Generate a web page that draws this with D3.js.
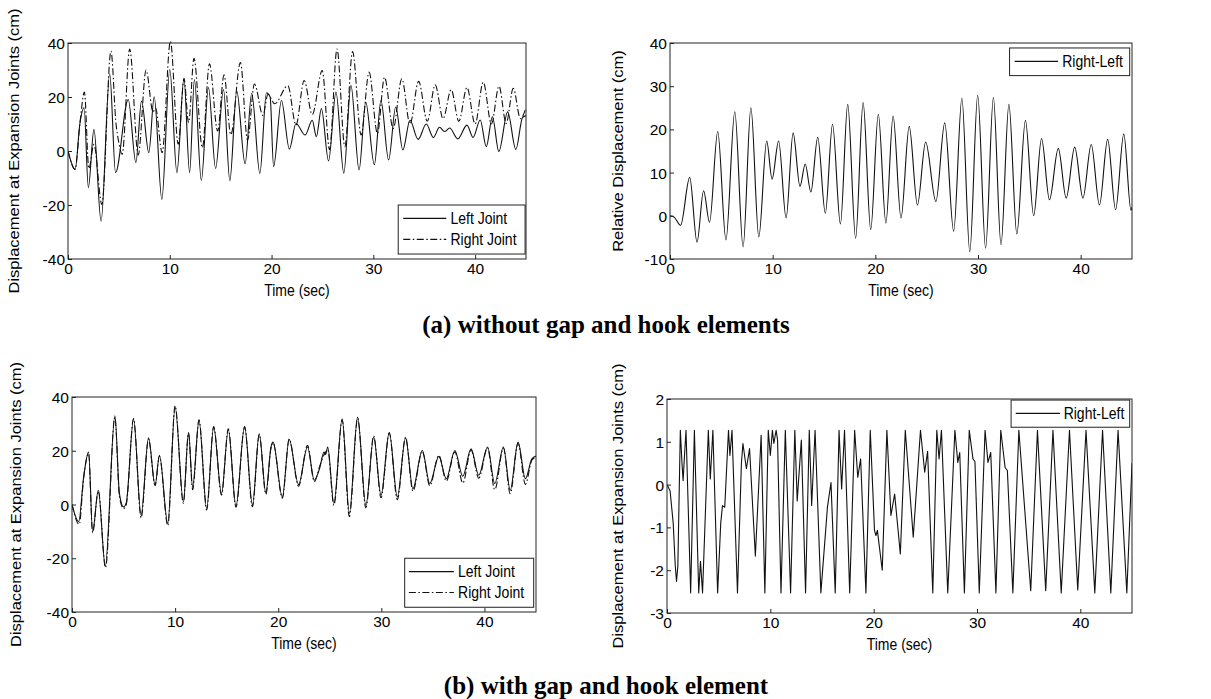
<!DOCTYPE html>
<html><head><meta charset="utf-8">
<script src="https://cdn.jsdelivr.net/npm/d3@7"></script>
<style>
body{margin:0;background:#fff;}
</style></head><body>
<svg id="chart" width="1211" height="699"></svg>
<script>
// ---------- data ----------
const timeTicks = [0, 10, 20, 30, 40];
const yTicksA1 = [-40, -20, 0, 20, 40];
const yTicksA2 = [-10, 0, 10, 20, 30, 40];
const yTicksB1 = [-40, -20, 0, 20, 40];
const yTicksB2 = [-3, -2, -1, 0, 1, 2];
const legendA1 = ["Left Joint", "Right Joint"];
const legendA2 = ["Right-Left"];
const captionA = "(a) without gap and hook elements";
const captionB = "(b) with gap and hook element";

// (a) left : displacement at joints, extrema [time, value]
const a1Left = [[0,0],[0.7,-6.8],[1.17,10.2],[1.58,16],[2.0,-13.6],[2.55,8.0],[3.25,-26],[4.1,28.6],[4.67,-8],[5.92,19.1],[6.67,-4.3],[7.22,18.5],[7.94,-0.6],[8.47,20.1],[9.22,-17.9],[10.0,30.2],[10.7,-8],[11.39,26.8],[11.95,-8],[12.42,26.5],[13.1,-10.9],[13.8,23.5],[14.5,-6.5],[15.28,22.8],[15.9,-11],[16.58,22.2],[17.4,-4.7],[18.05,21.4],[18.85,-8.3],[19.5,21.6],[19.86,20],[20.2,-5.8],[20.97,18.7],[21.75,0.7],[22.4,10.2],[23.3,5.9],[24.0,11.4],[24.4,5.3],[24.9,15.7],[25.6,-3.7],[26.33,21.8],[27.1,-8.2],[27.8,24.3],[28.6,-7],[29.25,18.1],[30.1,-5.1],[30.75,18.7],[31.5,-3.3],[32.2,16.3],[32.9,0.4],[33.6,11.4],[34.4,4.3],[35.2,10],[35.9,5],[36.5,8.8],[37.0,7.2],[37.5,8.5],[38.3,4.5],[39.2,9.6],[39.8,5],[40.5,11.5],[41.1,1.6],[41.7,12.7],[42.33,-0.2],[43.2,14.5],[44.0,0.6],[44.67,12.5],[45,13]];
const a1Right = [[0,0],[0.7,-6.8],[1.17,10.2],[1.61,21.8],[2.05,-6.5],[2.55,2.5],[3.33,-19.8],[4.22,37],[4.72,10],[4.95,4],[5.33,-1.2],[6.06,37.8],[6.9,-1.5],[7.67,30],[8.35,14.5],[8.6,16],[9.25,-0.6],[10.06,40.6],[10.83,2.5],[11.4,26.8],[11.85,10.5],[12.38,34.3],[13.2,1.2],[13.9,32.3],[14.7,7.4],[15.33,28.2],[16.0,6],[16.94,32.8],[17.64,4],[18.32,24.8],[19.15,13.2],[19.65,21],[20.3,17.5],[21.6,24.2],[22.4,9.6],[23.2,26.1],[24.0,13.5],[24.98,29.8],[25.7,0.5],[26.43,37.8],[27.2,1.6],[27.96,36.8],[28.8,5.9],[29.58,29.2],[30.4,6.5],[31.1,27.3],[31.95,8.3],[32.8,26.7],[33.6,10],[34.45,25.8],[35.3,11],[36.08,24.5],[36.85,12],[37.65,22.7],[38.4,11],[39.2,23.5],[40.0,10],[40.8,25.5],[41.6,10],[42.35,24],[43.05,10.2],[43.75,23.2],[44.45,12],[45,16]];

// (a) right : relative displacement
const a2Rel = [[0,0],[0.4,-0.3],[1.03,-2.2],[1.92,8.9],[2.63,-6.1],[3.27,5.8],[3.85,-1.5],[4.65,19.5],[5.45,-5.6],[6.31,24.1],[7.12,-7.2],[7.88,25],[8.65,-4.9],[9.42,17.3],[9.94,8.5],[10.58,17.3],[11.31,-0.5],[11.99,19.2],[12.66,6.8],[13.17,12],[13.72,5.5],[14.39,18.2],[15.13,0.6],[15.83,21.2],[16.6,-1.9],[17.31,25.8],[18.08,-5.2],[18.81,26.2],[19.55,-3.2],[20.29,23.5],[21.03,-1.7],[21.73,23.1],[22.5,-0.5],[23.3,20.7],[24.1,2.5],[24.9,17.1],[25.9,3.3],[26.76,21.5],[27.63,-3.6],[28.43,27.2],[29.2,-8.3],[29.97,27.9],[30.74,-7.5],[31.5,27.4],[32.24,-6.7],[33.01,25.8],[33.78,-4.2],[34.62,22.1],[35.42,0],[36.19,17.9],[36.96,3.7],[37.82,15.6],[38.59,4.1],[39.42,15.9],[40.22,4.1],[41.03,16.5],[41.83,2.5],[42.63,17.7],[43.4,1.4],[44.2,18.9],[44.9,1.3],[45,2]];

// (b) left : displacement at joints with gap/hook
const b1Left = [[0,0],[0.65,-6.4],[1.13,10.2],[1.61,19.5],[2.0,-10.1],[2.55,5.3],[3.23,-23],[4.16,33],[4.6,4.1],[5.0,-0.9],[5.26,0.6],[5.97,31.8],[6.7,-4],[7.42,24.8],[8.06,7.2],[8.48,18.3],[9.29,-7],[10.0,36.4],[10.8,1],[11.3,26.9],[11.7,6.5],[12.32,31.2],[13.06,-1.5],[13.74,28.8],[14.5,4.1],[15.16,27.8],[15.9,-0.6],[16.74,29.1],[17.5,-0.2],[18.16,26.3],[18.8,4.3],[19.3,21.4],[19.5,23.2],[20.4,2.8],[21.06,24.2],[21.97,7.4],[22.84,21.4],[23.5,9],[24.0,13.3],[24.45,19.5],[24.6,18.6],[24.8,21.4],[25.4,0.4],[26.2,31.9],[26.9,-3.3],[27.7,32.5],[28.5,-0.3],[29.26,25.1],[29.97,3.5],[30.77,26.9],[31.55,2.8],[32.35,24.8],[33.06,5.9],[33.97,20.1],[34.7,7.8],[35.58,17.9],[36.3,9.6],[37.13,20.1],[37.9,10.5],[38.7,20.7],[39.45,10.9],[40.3,21.4],[41.0,7.8],[41.84,21.4],[42.5,5.3],[43.26,23.2],[43.97,9.6],[44.6,17],[45,18]];
const b1Right = [[0,0],[0.7,-7.4],[1.13,10],[1.61,19],[2.0,-10.5],[2.55,5.0],[3.25,-23.5],[4.16,32.5],[4.6,3],[5.0,-1.5],[5.26,0],[5.97,32],[6.7,-5],[7.42,24.3],[8.06,7],[8.48,18],[9.29,-7.8],[10.0,36.7],[10.8,0.5],[11.3,26.5],[11.7,5.5],[12.32,31.5],[13.06,-2],[13.74,29],[14.5,3.5],[15.16,28.2],[15.9,-1],[16.74,28.8],[17.5,-0.8],[18.16,26],[18.8,3.8],[19.3,21],[19.5,23],[20.4,2.3],[21.06,24.4],[21.97,6.8],[22.84,22],[23.5,8.5],[24.0,14],[24.45,18.5],[24.6,19.5],[24.8,20.5],[25.4,-0.3],[26.2,31.5],[26.9,-4.5],[27.7,32],[28.5,-1.2],[29.26,25.5],[29.97,2.5],[30.77,26.5],[31.55,1.8],[32.35,25],[33.06,5],[33.97,19.8],[34.7,7],[35.58,18.3],[36.3,8.7],[37.13,19.6],[37.9,8],[38.7,20.3],[39.45,9.8],[40.3,21],[41.0,5.5],[41.84,21],[42.5,4],[43.26,22.8],[43.97,7.5],[44.6,16.5],[45,17.5]];

// (b) right : relative displacement (limited by gap/hook)
const b2Rel = [[0,0],[0.3,-0.15],[0.6,-0.9],[0.8,-1.9],[0.92,-2.26],[1.05,-1.9],[1.29,1.27],[1.45,0.5],[1.56,0.09],[1.65,0.5],[1.84,1.27],[2.29,-2.53],[2.65,1.27],[3.07,-2.53],[3.24,-1.79],[3.44,-2.53],[4.0,1.27],[4.19,0.13],[4.44,1.27],[4.9,-2.53],[5.2,-0.9],[5.37,-0.49],[5.59,-0.53],[5.95,1.27],[6.09,0.68],[6.29,1.27],[6.82,-2.53],[7.2,0.5],[7.35,0.96],[7.68,0.37],[7.99,0.84],[8.55,-1.67],[9.11,1.15],[9.47,-2.53],[9.8,1.27],[10.0,0.68],[10.2,1.27],[10.34,0.96],[10.56,1.27],[10.7,1.04],[11.03,-2.53],[11.45,1.27],[11.96,-2.53],[12.37,1.27],[12.6,-0.38],[13.0,1.04],[13.41,-2.53],[13.77,1.27],[14.0,-0.49],[14.33,1.27],[14.89,-2.53],[15.53,-0.52],[15.87,0.05],[16.28,-2.53],[16.65,1.27],[16.9,-0.1],[17.18,1.27],[17.68,-2.53],[18.16,1.27],[18.46,0.17],[18.74,0.6],[19.25,-2.53],[19.67,1.27],[20.08,-1.07],[20.22,-1.19],[20.36,-1.07],[20.83,-2.0],[21.28,1.27],[21.67,-0.72],[22.03,-0.22],[22.58,-1.62],[23.06,1.27],[23.83,-1.23],[24.53,1.27],[24.94,0.29],[25.22,0.78],[25.72,-2.53],[26.11,1.27],[26.33,0.6],[26.56,1.27],[27.17,-2.53],[27.86,1.27],[28.14,0.52],[28.33,0.75],[28.78,-2.53],[29.25,1.27],[29.61,0.6],[29.8,0.54],[30.22,-2.53],[30.78,1.27],[31.06,0.52],[31.33,0.75],[31.83,-2.53],[32.3,1.27],[32.72,0.4],[32.94,0.33],[33.47,-2.53],[34.05,1.27],[35.2,-2.48],[35.85,1.27],[36.65,-2.48],[37.35,1.27],[38.15,-2.53],[38.95,1.27],[39.75,-2.46],[40.55,1.27],[41.4,-2.53],[42.15,1.27],[42.95,-2.53],[43.65,1.27],[44.5,-2.53],[45,0.5]];

// ---------- drawing ----------
const svg = d3.select("#chart");
const SANS = '"Liberation Sans",Arial,sans-serif';
const SERIF = '"Liberation Serif","Times New Roman",serif';
const dashDot = "7,2.5,1.5,2.5";

function hText(sel, size) {
  return sel.style("font-family", SANS).style("font-size", size + "px").style("fill", "#000");
}

function drawPanel(cfg) {
  const g = svg.append("g");
  const x = d3.scaleLinear().domain([0, 45]).range([cfg.left, cfg.right]);
  const y = d3.scaleLinear().domain(cfg.yDomain).range([cfg.bottom, cfg.top]);
  const clipId = "clip-" + cfg.id;
  svg.append("clipPath").attr("id", clipId).append("rect")
    .attr("x", cfg.left).attr("y", cfg.top - 2)
    .attr("width", cfg.right - cfg.left).attr("height", cfg.bottom - cfg.top + 4);

  cfg.series.forEach(s => {
    const line = d3.line().x(d => x(d[0])).y(d => y(d[1])).curve(s.curve || d3.curveMonotoneX);
    g.append("path").attr("d", line(s.data))
      .attr("fill", "none").attr("stroke", "#111").attr("stroke-width", 1.1)
      .attr("stroke-dasharray", s.dash ? dashDot : null)
      .attr("stroke-linejoin", "round")
      .attr("clip-path", `url(#${clipId})`);
  });

  g.append("rect").attr("x", cfg.left).attr("y", cfg.top)
    .attr("width", cfg.right - cfg.left).attr("height", cfg.bottom - cfg.top)
    .attr("fill", "none").attr("stroke", "#222").attr("stroke-width", 1);

  const xAxis = d3.axisBottom(x).tickValues(timeTicks).tickSize(-4).tickSizeOuter(0)
    .tickPadding(4).tickFormat(d => String(d));
  const gx = g.append("g").attr("transform", `translate(0,${cfg.bottom})`).call(xAxis);
  const yAxis = d3.axisLeft(y).tickValues(cfg.yTicks).tickSize(-4).tickSizeOuter(0)
    .tickPadding(3).tickFormat(d => String(d));
  const gy = g.append("g").attr("transform", `translate(${cfg.left},0)`).call(yAxis);
  [gx, gy].forEach(a => {
    a.select(".domain").remove();
    a.selectAll("line").attr("stroke", "#222");
    hText(a.selectAll("text"), 15.5);
  });
  gy.selectAll(".tick text").attr("dy", "0.36em");

  hText(g.append("text"), 14).attr("text-anchor", "middle")
    .attr("transform", `translate(${(cfg.left + cfg.right) / 2},${cfg.bottom + cfg.xLabelDy}) scale(1,1.15)`)
    .text("Time (sec)");
  hText(g.append("text"), cfg.yLabelSize)
    .attr("transform", `translate(${cfg.yLabelX},${(cfg.top + cfg.bottom) / 2}) rotate(-90) scale(1,0.88)`)
    .attr("text-anchor", "middle").text(cfg.yLabel);

  // legend
  const W = cfg.right - cfg.left, H = cfg.bottom - cfg.top;
  const L = cfg.legend;
  const bx = cfg.left + L.bx0 * W, bx1 = cfg.left + L.bx1 * W;
  const by = cfg.top + L.by0 * H, by1 = cfg.top + L.by1 * H;
  g.append("rect").attr("x", bx).attr("y", by).attr("width", bx1 - bx).attr("height", by1 - by)
    .attr("fill", "#fff").attr("stroke", "#222").attr("stroke-width", 1);
  L.items.forEach((name, i) => {
    const ty = cfg.top + L.rows[i] * H;
    g.append("line").attr("x1", cfg.left + L.lx0 * W).attr("x2", cfg.left + L.lx1 * W)
      .attr("y1", ty).attr("y2", ty).attr("stroke", "#111").attr("stroke-width", 1.1)
      .attr("stroke-dasharray", L.dashes[i] ? dashDot : null);
    hText(g.append("text"), 14)
      .attr("transform", `translate(${cfg.left + L.tx * W},${ty}) scale(1,1.15)`)
      .attr("dy", "0.36em").text(name);
  });
}

drawPanel({id: "a1", left: 68, right: 526, top: 43, bottom: 259, yDomain: [-40, 40], yTicks: yTicksA1,
  xLabelDy: 37, yLabelX: 19, yLabelSize: 16.5, yLabel: "Displacement at Expansion Joints (cm)",
  series: [{data: a1Left}, {data: a1Right, dash: true}],
  legend: {items: legendA1, dashes: [false, true], bx0: 0.721, bx1: 0.998, by0: 0.75, by1: 0.977,
    lx0: 0.732, lx1: 0.826, tx: 0.835, rows: [0.812, 0.909]}});

drawPanel({id: "a2", left: 670, right: 1132, top: 43, bottom: 259, yDomain: [-10, 40], yTicks: yTicksA2,
  xLabelDy: 37, yLabelX: 623, yLabelSize: 16.5, yLabel: "Relative Displacement (cm)",
  series: [{data: a2Rel}],
  legend: {items: legendA2, dashes: [false], bx0: 0.735, bx1: 0.995, by0: 0.023, by1: 0.151,
    lx0: 0.746, lx1: 0.84, tx: 0.849, rows: [0.085]}});

drawPanel({id: "b1", left: 72, right: 536, top: 397, bottom: 612, yDomain: [-40, 40], yTicks: yTicksB1,
  xLabelDy: 37, yLabelX: 21, yLabelSize: 16.5, yLabel: "Displacement at Expansion Joints (cm)",
  series: [{data: b1Left}, {data: b1Right, dash: true}],
  legend: {items: legendA1, dashes: [false, true], bx0: 0.717, bx1: 0.995, by0: 0.75, by1: 0.978,
    lx0: 0.726, lx1: 0.823, tx: 0.832, rows: [0.812, 0.909]}});

drawPanel({id: "b2", left: 667, right: 1132, top: 399, bottom: 613, yDomain: [-3, 2], yTicks: yTicksB2,
  xLabelDy: 37, yLabelX: 623, yLabelSize: 16.5, yLabel: "Displacement at Expansion Joints (cm)",
  series: [{data: b2Rel, curve: d3.curveLinear}],
  legend: {items: legendA2, dashes: [false], bx0: 0.74, bx1: 0.995, by0: 0.005, by1: 0.132,
    lx0: 0.75, lx1: 0.845, tx: 0.853, rows: [0.067]}});

svg.append("text").attr("x", 606).attr("y", 333).attr("text-anchor", "middle")
  .style("font-family", SERIF).style("font-weight", "bold").style("font-size", "25px").style("fill", "#000")
  .text(captionA);
svg.append("text").attr("x", 606).attr("y", 694).attr("text-anchor", "middle")
  .style("font-family", SERIF).style("font-weight", "bold").style("font-size", "25px").style("fill", "#000")
  .text(captionB);
</script>
</body></html>
